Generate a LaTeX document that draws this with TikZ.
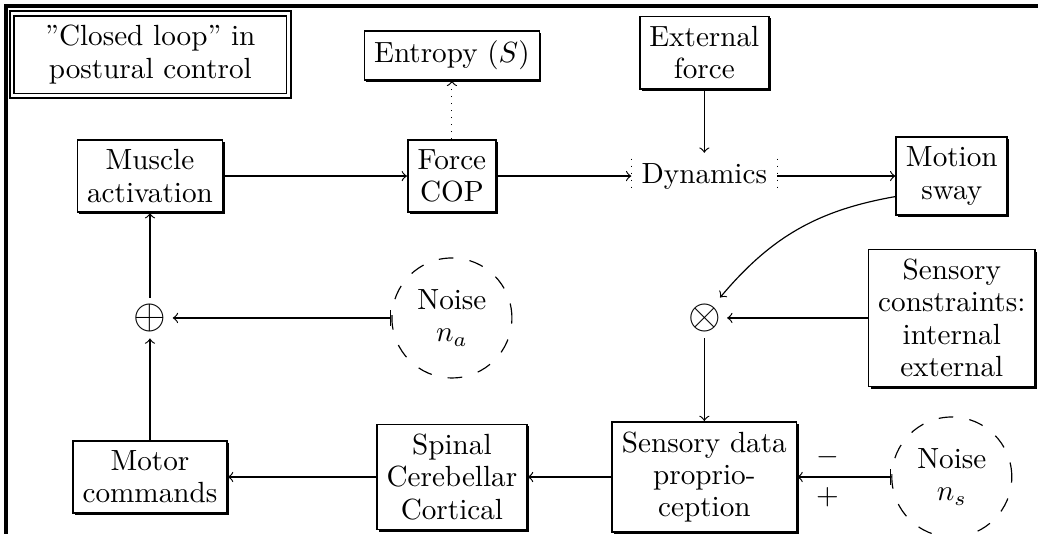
\documentclass[tikz,border=0pt]{standalone}
\usetikzlibrary{shadows}

\tikzset{
  box/.style={draw, semithick, fill=white, align=center,
    font=\linespread{0.92}\selectfont,
    drop shadow={shadow xshift=0.7pt, shadow yshift=-0.7pt, opacity=1, fill=black}},
  titlebox/.style={box, double, double distance=0.9pt,
    minimum width=3.33cm, minimum height=0.99cm},
  noise/.style={circle, draw, dash pattern=on 5pt off 5.6pt, align=center,
    font=\linespread{0.92}\selectfont, minimum size=1.445cm, inner sep=0pt},
  junction/.style={font=\Large, inner sep=2pt}
}

\begin{document}
\begin{tikzpicture}[auto]
    \useasboundingbox (0, 0) rectangle (12.50, 6.43);
    % frame edges
    \draw [line width=1.1pt] (0.072, 0) -- (0.072, 6.357) -- (12.50, 6.357);

    \node [titlebox] (t) at (1.81, 5.773) {''Closed loop'' in\\postural control};
    \node [box] (e) at (5.442, 5.761) {Entropy $(S)$};
    \node [box] (ef) at (8.482, 5.797) {External\\force};

    \node [box] (ma) at (1.806, 4.31) {Muscle\\activation};
    \node [box] (fc) at (5.442, 4.31) {Force\\COP};
    \node (dy) at (8.482, 4.31) {Dynamics};
    \node [box] (ms) at (11.462, 4.31) {Motion\\sway};

    \node [junction] (sum) at (1.806, 2.601) {$\oplus$};
    \node [noise] (na) at (5.442, 2.601) {Noise\\$n_a$};
    \node [junction] (prod) at (8.482, 2.601) {$\otimes$};
    \node [box] (sc) at (11.462, 2.601) {Sensory\\constraints:\\internal\\external};

    \node [box] (mc) at (1.806, 0.686) {Motor\\commands};
    \node [box] (scc) at (5.442, 0.686) {Spinal\\Cerebellar\\Cortical};
    \node [box] (sd) at (8.482, 0.686) {Sensory data\\proprio-\\ception};
    \node [noise] (ns) at (11.462, 0.686) {Noise\\$n_s$};

    % dotted sides of the dynamics block
    \draw [dotted] ([yshift=-2pt]dy.north west) -- ([yshift=2pt]dy.south west);
    \draw [dotted] ([yshift=-2pt]dy.north east) -- ([yshift=2pt]dy.south east);

    \draw [->] (ma) to (fc);
    \draw [->, dotted] (fc) to (e);
    \draw [->] (fc) to (dy);
    \draw [->] (ef) to (dy);
    \draw [->] (dy) to (ms);
    \draw [->] (ms.200) to [bend right=20] (prod);
    \draw [->] (sc) to (prod);
    \draw [->] (prod) to (sd);
    \draw [|->] (ns) to node [pos=0.68, swap] {$-$} node [pos=0.68] {$+$} (sd);
    \draw [->] (sd) to (scc);
    \draw [->] (scc) to (mc);
    \draw [->] (mc) to (sum);
    \draw [->] (sum) to (ma);
    \draw [|->] (na) to (sum);
\end{tikzpicture}
\end{document}
